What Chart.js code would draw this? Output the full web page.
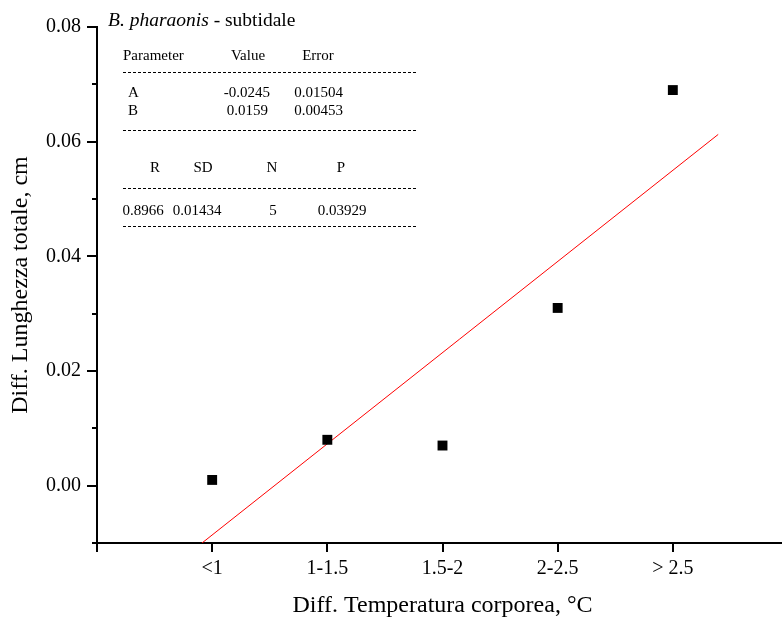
<!DOCTYPE html>
<html><head><meta charset="utf-8">
<script src="https://cdn.jsdelivr.net/npm/chart.js@4"></script>
<style>html,body{margin:0;padding:0;background:#fff;overflow:hidden;width:782px;height:620px}</style>
</head><body>
<canvas id="c" width="795" height="620"></canvas>
<script>
const categories = ['<1', '1-1.5', '1.5-2', '2-2.5', '> 2.5'];
const xPositions = [1, 2, 3, 4, 5];
const values = [0.001, 0.008, 0.007, 0.031, 0.069];
const yTicks = [0, 0.02, 0.04, 0.06, 0.08];
const yMinorTicks = [-0.01, 0.01, 0.03, 0.05, 0.07];
const fitA = -0.0245, fitB = 0.0159;
const fitX = [0.9, 5.394];
const paramRows = [['A', '-0.0245', '0.01504'], ['B', '0.0159', '0.00453']];
const statRow = ['0.8966', '0.01434', '5', '0.03929'];

const FONT = "'Liberation Serif', 'Times New Roman', serif";

const points = xPositions.map((x, i) => ({x, y: values[i]}));
const fitLine = fitX.map(x => ({x, y: fitA + fitB * x}));

const annot = {
  id: 'annot',
  afterDraw(chart) {
    const ctx = chart.ctx;
    const ys = chart.scales.y;
    ctx.save();
    ctx.strokeStyle = '#000'; ctx.lineWidth = 2;
    yMinorTicks.forEach(v => {
      const py = Math.round(ys.getPixelForValue(v));
      ctx.beginPath(); ctx.moveTo(ys.right - 5, py); ctx.lineTo(ys.right, py); ctx.stroke();
    });
    ctx.fillStyle = '#000';
    ctx.textBaseline = 'alphabetic';
    ctx.textAlign = 'left';
    ctx.font = "italic 19.5px " + FONT;
    ctx.fillText('B. pharaonis', 108, 26);
    const w = ctx.measureText('B. pharaonis').width;
    ctx.font = "19.5px " + FONT;
    ctx.fillText(' - subtidale', 108 + w, 26);
    ctx.font = "15px " + FONT;
    ctx.fillText('Parameter', 123, 60);
    ctx.textAlign = 'center';
    ctx.fillText('Value', 248, 60);
    ctx.fillText('Error', 318, 60);
    ctx.textAlign = 'left';
    ctx.fillText(paramRows[0][0], 128, 97);
    ctx.fillText(paramRows[1][0], 128, 115);
    ctx.textAlign = 'right';
    ctx.fillText(paramRows[0][1], 270, 97);
    ctx.fillText(paramRows[1][1], 268, 115);
    ctx.fillText(paramRows[0][2], 343, 97);
    ctx.fillText(paramRows[1][2], 343, 115);
    ctx.textAlign = 'center';
    ctx.fillText('R', 155, 172);
    ctx.fillText('SD', 203, 172);
    ctx.fillText('N', 272, 172);
    ctx.fillText('P', 341, 172);
    ctx.fillText(statRow[0], 143, 215);
    ctx.fillText(statRow[1], 197, 215);
    ctx.fillText(statRow[2], 273, 215);
    ctx.fillText(statRow[3], 342, 215);
    ctx.lineWidth = 1;
    ctx.setLineDash([3, 2]);
    [72.5, 130.5, 188.5, 226.5].forEach(y => {
      ctx.beginPath(); ctx.moveTo(123, y); ctx.lineTo(418, y); ctx.stroke();
    });
    ctx.restore();
  }
};

new Chart(document.getElementById('c'), {
  type: 'scatter',
  data: {
    datasets: [
      {data: points, pointStyle: 'rect', pointRadius: 7, pointHoverRadius: 7,
       backgroundColor: '#000', borderColor: '#000', borderWidth: 0, showLine: false, order: 1},
      {data: fitLine, showLine: true, borderColor: '#ff0000', borderWidth: 1, pointRadius: 0, order: 2}
    ]
  },
  options: {
    responsive: false, animation: false, events: [],
    layout: {padding: {top: 27, right: 0, left: 0, bottom: 0}},
    plugins: {legend: {display: false}, tooltip: {enabled: false}},
    scales: {
      x: {
        type: 'linear', min: 0, max: 6,
        afterBuildTicks: s => { s.ticks = [0, 1, 2, 3, 4, 5].map(v => ({value: v})); },
        afterFit: s => { s.height = 77; },
        ticks: {color: '#000', font: {family: FONT, size: 20}, padding: 5, maxRotation: 0, autoSkip: false,
          callback: v => (v >= 1 && v <= 5 ? categories[v - 1] : '')},
        grid: {drawOnChartArea: false, drawTicks: true, tickLength: 9, color: '#000', lineWidth: 2},
        border: {display: true, color: '#000', width: 2},
        title: {display: true, text: 'Diff. Temperatura corporea, °C', color: '#000',
          font: {family: FONT, size: 24}, padding: {top: 0, bottom: 0}}
      },
      y: {
        type: 'linear', min: -0.01, max: 0.08,
        afterBuildTicks: s => { s.ticks = yTicks.map(v => ({value: v})); },
        afterFit: s => { s.width = 97; },
        ticks: {color: '#000', font: {family: FONT, size: 20}, padding: 6,
          callback: v => v.toFixed(2)},
        grid: {drawOnChartArea: false, drawTicks: true, tickLength: 10, color: '#000', lineWidth: 2},
        border: {display: true, color: '#000', width: 2},
        title: {display: true, text: 'Diff. Lunghezza totale, cm', color: '#000',
          font: {family: FONT, size: 24}, padding: {top: 6, bottom: 0}}
      }
    }
  },
  plugins: [annot]
});
</script>
</body></html>
